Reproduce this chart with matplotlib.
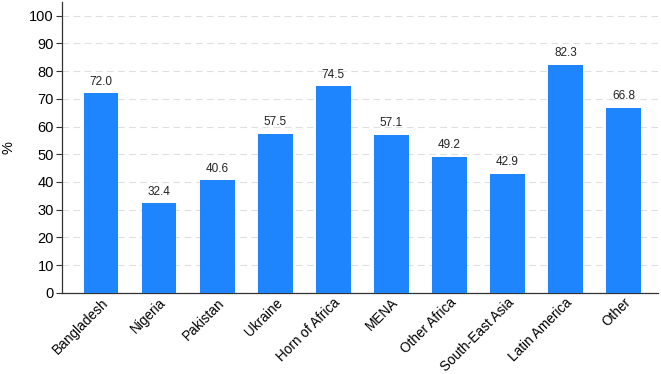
import matplotlib
matplotlib.use("Agg")
import matplotlib.pyplot as plt

categories = ["Bangladesh", "Nigeria", "Pakistan", "Ukraine", "Horn of Africa", "MENA",
              "Other Africa", "South-East Asia", "Latin America", "Other"]
values = [72.0, 32.4, 40.6, 57.5, 74.5, 57.1, 49.2, 42.9, 82.3, 66.8]
yticks = list(range(0, 101, 10))

plt.rcParams['font.family'] = ['Liberation Sans', 'DejaVu Sans']

fig = plt.figure(figsize=(6.61, 3.74), dpi=100)
ax = fig.add_axes([0.094, 0.217, 0.901, 0.778])

x = list(range(len(categories)))
bars = ax.bar(x, values, width=0.6, color="#1E85FF", zorder=3)
for xi, v in zip(x, values):
    ax.text(xi, v + 2.0, f"{v:.1f}", ha="center", va="bottom", fontsize=8.5, color="#222222")

ax.set_xlim(-0.67, 9.59)
ax.set_ylim(0, 105)
ax.set_yticks(yticks)
ax.set_yticklabels([str(t) for t in yticks], fontsize=10.5)
ax.yaxis.grid(True, linestyle=(0, (6, 4)), color="#e0e0e0", linewidth=0.8, zorder=0)
ax.set_xticks(x)
ax.set_xticklabels(categories, rotation=45, ha="right", rotation_mode="anchor", fontsize=9.8)
ax.tick_params(axis="x", length=0, pad=2)
ax.tick_params(axis="y", length=4, width=0.8, color="#333333", pad=2)
ax.set_ylabel("%", fontsize=10.5, labelpad=10)
for s in ["top", "right"]:
    ax.spines[s].set_visible(False)
for s in ["left", "bottom"]:
    ax.spines[s].set_color("#333333")
    ax.spines[s].set_linewidth(0.9)

fig.savefig("out.png", dpi=100)
